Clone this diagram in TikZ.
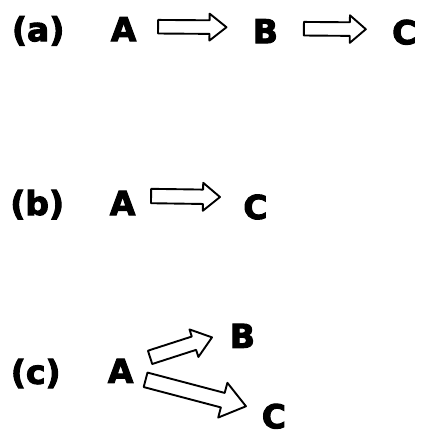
\documentclass[tikz,border=0pt]{standalone}
\usepackage{fontspec}
\setmainfont{DejaVu Sans}[BoldFont={DejaVu Sans Bold},BoldFeatures={FakeBold=3}]
\usetikzlibrary{calc}
\tikzset{
  lbl/.style={anchor=base,inner sep=0pt,font=\fontsize{33}{36}\selectfont\bfseries},
  barrow/.style={draw=black,fill=white,line width=1.9pt,line join=round}
}
% #1 tail, #2 tip, #3 half shaft, #4 half head, #5 head length (numbers, pt)
\newcommand{\blockarrow}[5]{%
  \path let \p1=($(#2)-(#1)$) in \pgfextra{%
    \pgfmathsetmacro\bkang{atan2(\y1,\x1)}%
    \pgfmathsetmacro\bklen{veclen(\x1,\y1)}%
    \global\let\bkAng\bkang\global\let\bkLen\bklen};
  \begin{scope}[shift={(#1)},rotate=\bkAng,x=1pt,y=1pt]
    \draw[barrow] (0,#3) -- (\bkLen-#5,#3) -- (\bkLen-#5,#4) -- (\bkLen,0)
      -- (\bkLen-#5,-#4) -- (\bkLen-#5,-#3) -- (0,-#3) -- cycle;
  \end{scope}%
}
\begin{document}
\begin{tikzpicture}[x=1pt,y=-1pt]
\draw[white,line width=0.5pt,fill=white] (0,0) rectangle (420,435);
\useasboundingbox (0,0) rectangle (420,435);
% arrows
\coordinate (a1t) at (158,26.5);
\coordinate (a1h) at (226.5,27);
\coordinate (a2t) at (304,28.5);
\coordinate (a2h) at (366,29);
\coordinate (b1t) at (151,196);
\coordinate (b1h) at (220,197);
\coordinate (c1t) at (150,357.5);
\coordinate (c1h) at (212,337.5);
\coordinate (c2t) at (145.5,380);
\coordinate (c2h) at (246,406.5);
\blockarrow{a1t}{a1h}{6.8}{13.5}{17}
\blockarrow{a2t}{a2h}{6.8}{13.8}{16}
\blockarrow{b1t}{b1h}{7.2}{14}{17}
\blockarrow{c1t}{c1h}{7}{14.5}{19}
\blockarrow{c2t}{c2h}{7.5}{18}{24}
% row (a)
\node[lbl] (la) at (38,41) {(a)};
\node[lbl] (aA) at (123.5,41) {A};
\node[lbl] (aB) at (265.5,43) {B};
\node[lbl] (aC) at (404.5,44) {C};
% row (b)
\node[lbl] (lb) at (37,215) {(b)};
\node[lbl] (bA) at (122.5,215) {A};
\node[lbl] (bC) at (255.5,219) {C};
% row (c)
\node[lbl] (lc) at (35.5,384) {(c)};
\node[lbl] (cA) at (120.5,383) {A};
\node[lbl] (cB) at (242.5,348) {B};
\node[lbl] (cC) at (274,428.5) {C};
\end{tikzpicture}
\end{document}
